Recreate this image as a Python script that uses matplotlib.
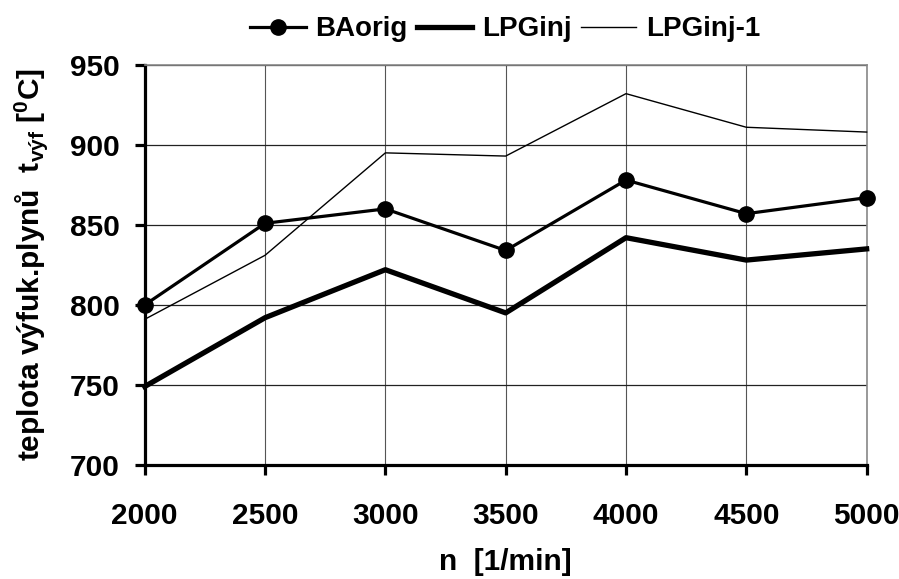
import matplotlib
matplotlib.use("Agg")
import matplotlib.pyplot as plt

rpm = [2000, 2500, 3000, 3500, 4000, 4500, 5000]
ba_orig = [800, 851, 860, 834, 878, 857, 867]
lpg_inj = [749, 792, 822, 795, 842, 828, 835]
lpg_inj_1 = [791, 831, 895, 893, 932, 911, 908]
yticks = [700, 750, 800, 850, 900, 950]

plt.rcParams['font.family'] = ['Liberation Sans', 'DejaVu Sans']
plt.rcParams['font.weight'] = 'bold'
plt.rcParams['mathtext.fontset'] = 'custom'
plt.rcParams['mathtext.rm'] = 'Liberation Sans'
plt.rcParams['mathtext.bf'] = 'Liberation Sans:bold'
plt.rcParams['mathtext.it'] = 'Liberation Sans:italic'

fig = plt.figure(figsize=(8.99, 5.79), dpi=100)
ax = fig.add_axes([0.161, 0.197, 0.803, 0.691])

ax.plot(rpm, ba_orig, color='black', lw=2.3, marker='o', markersize=11, label='BAorig', clip_on=False, zorder=4)
ax.plot(rpm, lpg_inj, color='black', lw=3.8, label='LPGinj', clip_on=False, zorder=3)
ax.plot(rpm, lpg_inj_1, color='black', lw=1.0, label='LPGinj-1', clip_on=False, zorder=3)

ax.set_xlim(2000, 5000)
ax.set_ylim(700, 950)
ax.set_xticks(rpm)
ax.set_yticks(yticks)
ax.grid(axis='y', color='#222222', lw=0.9)
ax.grid(axis='x', color='#555555', lw=0.8)
ax.set_axisbelow(True)

for s in ['left', 'bottom']:
    ax.spines[s].set_linewidth(2.3)
    ax.spines[s].set_color('black')
for s in ['top', 'right']:
    ax.spines[s].set_linewidth(1.2)
    ax.spines[s].set_color('#888888')

ax.tick_params(axis='both', direction='out', length=7, width=2.3, labelsize=21.5)
ax.tick_params(axis='y', pad=11)
ax.tick_params(axis='x', pad=20)
for lab in ax.get_xticklabels() + ax.get_yticklabels():
    lab.set_fontweight('bold')

ax.set_xlabel('n  [1/min]', fontsize=21.5, fontweight='bold', labelpad=13)
ax.set_ylabel(r'teplota výfuk.plynů  t$_{\mathrm{výf}}$ [$^{\mathbf{0}}$C]', fontsize=21.5, fontweight='bold')
ax.yaxis.set_label_coords(-0.131, 0.5)

leg = fig.legend(loc='upper center', bbox_to_anchor=(0.562, 1.015), ncol=3, frameon=False,
                 handlelength=2.0, handletextpad=0.36, columnspacing=0.32, prop={'weight': 'bold', 'size': 20})

fig.savefig('out.png', dpi=100)
